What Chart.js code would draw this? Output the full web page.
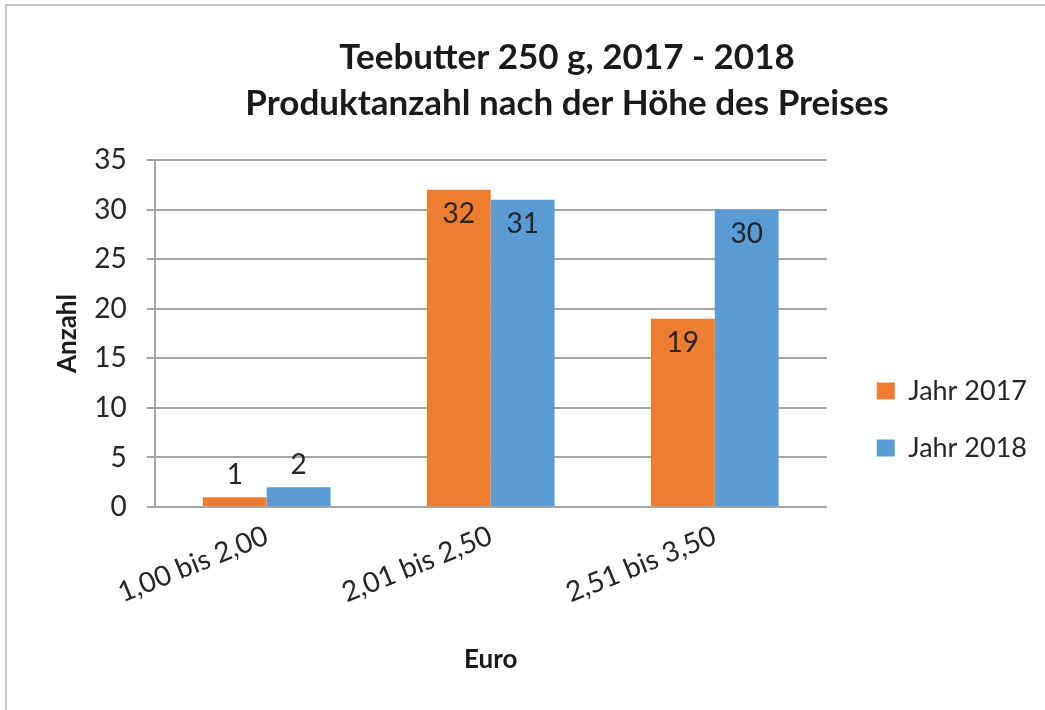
<!DOCTYPE html>
<html>
<head>
<meta charset="utf-8">
<script src="https://cdn.jsdelivr.net/npm/chart.js@4.4.1/dist/chart.umd.min.js"></script>
<style>
  html, body { margin: 0; padding: 0; background: #fff; overflow: hidden; }
  #frame { position: absolute; left: 5px; top: 4px; width: 1200px; height: 800px; border: 2px solid #c6c6c6; }
  #chart { position: absolute; left: 0; top: 0; }
</style>
</head>
<body>
<div id="frame"><canvas id="chart" width="1027" height="700"></canvas></div>
<script>
const categories = ["1,00 bis 2,00", "2,01 bis 2,50", "2,51 bis 3,50"];
const seriesNames = ["Jahr 2017", "Jahr 2018"];
const values2017 = [1, 32, 19];
const values2018 = [2, 31, 30];
const seriesColors = ["#ED7D31", "#5B9BD5"];

Chart.defaults.font.family = "Lato, 'Noto Sans', sans-serif";
Chart.defaults.color = "#262626";

// value labels: inside the top of tall bars, above short ones
const barLabels = {
  id: "barLabels",
  afterDatasetsDraw(chart) {
    const ctx = chart.ctx;
    ctx.save();
    ctx.font = "28px Lato, 'Noto Sans', sans-serif";
    ctx.fillStyle = "#262626";
    ctx.textAlign = "center";
    ctx.textBaseline = "middle";
    chart.data.datasets.forEach((ds, i) => {
      chart.getDatasetMeta(i).data.forEach((bar, j) => {
        const h = bar.base - bar.y;
        const y = h > 45 ? bar.y + 24 : bar.y - 22;
        ctx.fillText(String(ds.data[j]), bar.x, y);
      });
    });
    ctx.restore();
  }
};

// spreadsheet look: legend sits further from the plot, title is centred
// over the whole (cropped) chart frame rather than the visible part
const boxNudge = {
  id: "boxNudge",
  afterLayout(chart) {
    chart.legend.left += 20;
    chart.legend.right += 20;
    chart.titleBlock.left += 55;
    chart.titleBlock.right += 55;
  }
};

const ctx = document.getElementById("chart");

new Chart(ctx, {
  type: "bar",
  data: {
    labels: categories,
    datasets: [
      { label: seriesNames[0], data: values2017, backgroundColor: seriesColors[0] },
      { label: seriesNames[1], data: values2018, backgroundColor: seriesColors[1] },
    ],
  },
  options: {
    responsive: false,
    animation: false,
    categoryPercentage: 0.57,
    barPercentage: 1.0,
    layout: { padding: { left: 0, right: 17, top: 0, bottom: 0 } },
    plugins: {
      title: {
        display: true,
        text: ["Teebutter 250 g, 2017 - 2018", "Produktanzahl nach der Höhe des Preises"],
        font: { size: 35, weight: "bold", lineHeight: 1.314 },
        color: "#1a1a1a",
        padding: { top: 29, bottom: 33 },
      },
      legend: {
        position: "right",
        align: "start",
        fullSize: false,
        title: { display: true, text: "", padding: { top: 173, bottom: 0 } },
        labels: {
          boxWidth: 18,
          boxHeight: 17,
          padding: 30,
          font: { size: 27 },
          color: "#262626",
        },
      },
      tooltip: { enabled: false },
    },
    scales: {
      x: {
        grid: { display: false, drawTicks: false },
        border: { display: false },
        ticks: {
          minRotation: 22,
          maxRotation: 22,
          autoSkip: false,
          padding: 12,
          font: { size: 28 },
          color: "#262626",
        },
        title: {
          display: true,
          text: "Euro",
          font: { size: 26, weight: "bold" },
          color: "#1a1a1a",
          padding: { top: 22, bottom: 31 },
        },
      },
      y: {
        min: 0,
        max: 35,
        ticks: { stepSize: 5, padding: 20, font: { size: 28 }, color: "#262626" },
        grid: { color: "#a6a6a6", lineWidth: 2, tickLength: 8 },
        border: { color: "#a6a6a6", width: 2 },
        title: {
          display: true,
          text: "Anzahl",
          font: { size: 26, weight: "bold" },
          color: "#1a1a1a",
          padding: { top: 45, bottom: -9 },
        },
      },
    },
  },
  plugins: [barLabels, boxNudge],
});
</script>
</body>
</html>
